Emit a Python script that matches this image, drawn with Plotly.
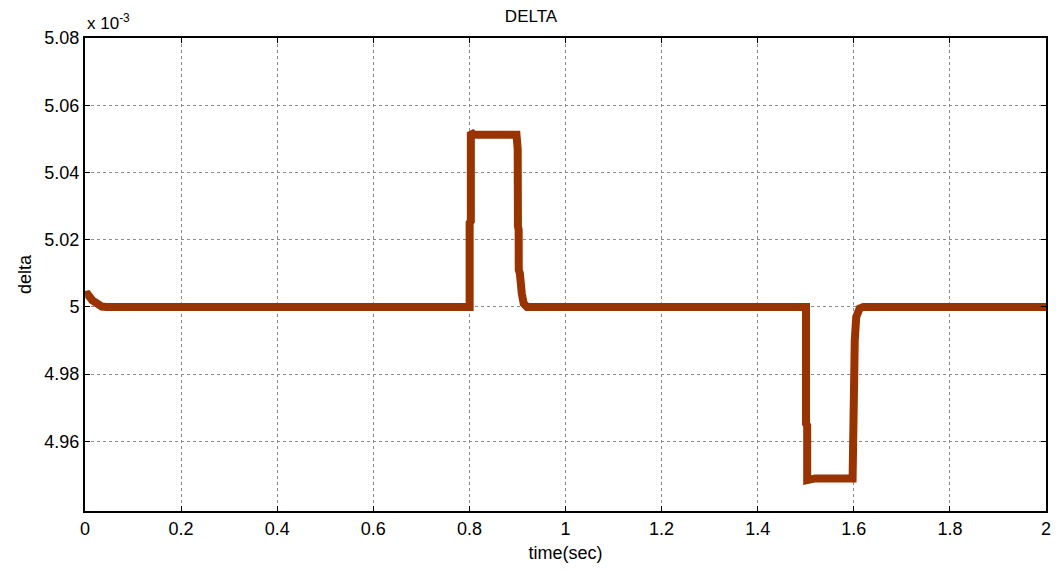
import plotly.graph_objects as go

# Simulated DELTA response (values in units of 1e-3)
time_sec = [0.0, 0.006, 0.015, 0.025, 0.035, 0.045,
            0.8005, 0.8005, 0.803, 0.803, 0.805, 0.810,
            0.898, 0.9005, 0.901, 0.9025, 0.9027, 0.905, 0.909, 0.913, 0.920,
            1.5005, 1.5005, 1.503, 1.503, 1.520, 1.520,
            1.5975, 1.5985, 1.6015, 1.602, 1.605, 1.612, 1.620, 2.0]
delta = [5.0035, 5.0037, 5.0020, 5.0007, 5.0001, 5.0000,
         5.0000, 5.0250, 5.0255, 5.0520, 5.0515, 5.0512,
         5.0512, 5.0470, 5.0240, 5.0230, 5.0110, 5.0100, 5.0040, 5.0010, 5.0000,
         5.0000, 4.9653, 4.9647, 4.9485, 4.9488, 4.9490,
         4.9490, 4.9796, 4.9810, 4.9900, 4.9970, 4.9995, 5.0000, 5.0000]

x_ticks = [0, 0.2, 0.4, 0.6, 0.8, 1.0, 1.2, 1.4, 1.6, 1.8, 2.0]
x_tick_text = ["0", "0.2", "0.4", "0.6", "0.8", "1", "1.2", "1.4", "1.6", "1.8", "2"]
y_ticks = [4.96, 4.98, 5.00, 5.02, 5.04, 5.06, 5.08]
y_tick_text = ["4.96", "4.98", "5", "5.02", "5.04", "5.06", "5.08"]

font = "Liberation Sans, Arial, sans-serif"

fig = go.Figure()
fig.add_trace(go.Scatter(
    x=time_sec, y=delta, mode="lines",
    line=dict(color="#993300", width=8),
    showlegend=False,
))

axis_common = dict(
    showline=True, linecolor="black", linewidth=2, mirror="allticks",
    ticks="inside", ticklen=5, tickcolor="black", tickwidth=1,
    showgrid=True, gridcolor="#8c8c8c", griddash="dot", gridwidth=1,
    zeroline=False,
    tickfont=dict(family=font, size=18, color="black"),
)

fig.update_layout(
    width=1062, height=571,
    margin=dict(l=85, r=11, t=38, b=58),
    paper_bgcolor="white", plot_bgcolor="white",
    title=dict(text="DELTA", x=0.5, xanchor="center", y=0.983, yanchor="top",
               font=dict(family=font, size=17, color="black")),
    xaxis=dict(range=[0, 2], tickvals=x_ticks, ticktext=x_tick_text,
               title=dict(text="time(sec)", font=dict(family=font, size=18, color="black"),
                          standoff=9),
               **axis_common),
    yaxis=dict(range=[4.9393, 5.08], tickvals=y_ticks, ticktext=y_tick_text,
               title=dict(text="delta", font=dict(family=font, size=18, color="black"),
                          standoff=8),
               **axis_common),
    annotations=[dict(
        text="x 10<sup>-3</sup>", xref="paper", yref="paper", x=0, y=1.0,
        xanchor="left", yanchor="bottom", showarrow=False, yshift=3,
        font=dict(family=font, size=17, color="black"),
    )],
)

fig.write_html("out.html")
